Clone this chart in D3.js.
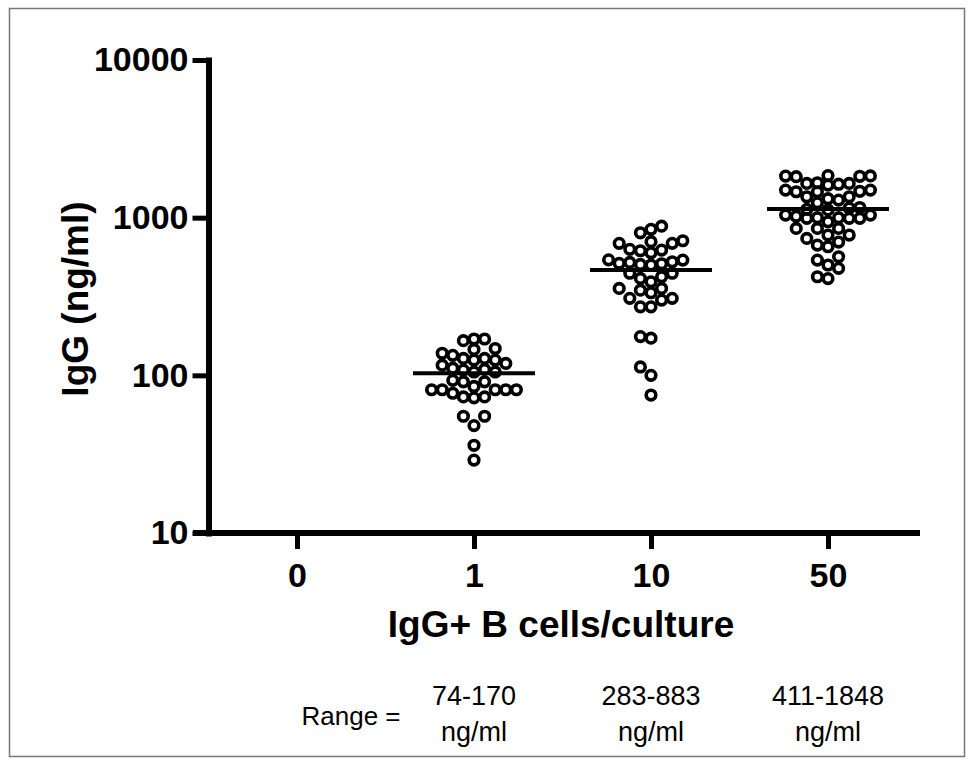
<!DOCTYPE html>
<html>
<head>
<meta charset="utf-8">
<script src="https://cdn.jsdelivr.net/npm/d3@7"></script>
<style>
  html, body { margin: 0; padding: 0; background: #fff; }
  svg { display: block; }
  text { font-family: "Liberation Sans", Arial, Helvetica, sans-serif; fill: #000; }
</style>
</head>
<body>
<svg id="chart" width="973" height="765"></svg>
<script>
// Number of IgG+ B cells seeded per culture
const groups = ["0", "1", "10", "50"];
const yTickValues = [10, 100, 1000, 10000];

// IgG measured in each culture supernatant (ng/ml)
const igg1 = [170, 166, 170, 148, 146, 138, 134, 128, 128, 125, 125, 119, 116, 111,
  109, 105, 105, 108, 91, 85, 93, 91, 81, 81, 73, 81, 72, 81, 73, 81, 77,
  55, 48, 55, 36, 29];
const igg10 = [883, 843, 802, 714, 704, 687, 630, 617, 623, 687, 599, 538, 525, 513,
  540, 501, 510, 520, 505, 444, 422, 392, 412, 444, 356, 347, 356, 334, 308, 300,
  272, 272, 308, 176, 172, 113, 100, 75];
const igg50 = [1848, 1820, 1835, 1830, 1840, 1650, 1630, 1609, 1650, 1665, 1496, 1460,
  1470, 1460, 1496, 1357, 1293, 1243, 1357, 1320, 1150, 1130, 1120, 1160, 1039, 1000,
  990, 1020, 942, 990, 1039, 990, 1000, 855, 855, 855, 739, 776, 776, 670, 654, 700,
  565, 538, 477, 501, 422, 411];
const seriesGroups = ["1", "10", "50"];
const seriesValues = [igg1, igg10, igg50];
const centralValues = [103, 465, 1134];

// Range summary printed under the axis
const rangeGroups = ["1", "10", "50"];
const rangeLow = [74, 283, 411];
const rangeHigh = [170, 883, 1848];

const svg = d3.select("#chart");

// outer frame
svg.append("rect")
  .attr("x", 9.5).attr("y", 8.5).attr("width", 955).attr("height", 748)
  .attr("fill", "none").attr("stroke", "#777").attr("stroke-width", 1.5);

const y = d3.scaleLog().domain([10, 10000]).range([533, 60]);
const x = d3.scalePoint().domain(groups).range([297, 828]);
const axisLeftX = 208.5;
const axisStart = 193, axisEnd = 920;

// y axis
const gy = svg.append("g").attr("transform", `translate(${axisLeftX},0)`);
gy.call(d3.axisLeft(y).tickValues(yTickValues).tickFormat(d3.format("d"))
  .tickSize(16).tickSizeOuter(0).tickPadding(4));
gy.select(".domain").attr("stroke", "#000").attr("stroke-width", 6).attr("stroke-linecap", "square");
gy.selectAll(".tick line").attr("stroke", "#000").attr("stroke-width", 5);
gy.selectAll(".tick text")
  .attr("font-size", 34).attr("font-weight", "bold").attr("fill", "#000")
  .attr("font-family", "Liberation Sans, Arial, sans-serif");

// x axis: ticks from the point scale, baseline drawn across the whole plot
const gx = svg.append("g").attr("transform", `translate(0,${y(10)})`);
gx.call(d3.axisBottom(x).tickSize(16).tickSizeOuter(0));
gx.select(".domain").remove();
gx.selectAll(".tick line").attr("stroke", "#000").attr("stroke-width", 5);
gx.selectAll(".tick text")
  .attr("y", 54).attr("dy", 0)
  .attr("font-size", 34).attr("font-weight", "bold").attr("fill", "#000")
  .attr("font-family", "Liberation Sans, Arial, sans-serif");
svg.append("line")
  .attr("x1", axisStart).attr("x2", axisEnd)
  .attr("y1", y(10)).attr("y2", y(10))
  .attr("stroke", "#000").attr("stroke-width", 6);

// axis titles
svg.append("text")
  .attr("transform", "translate(88,299) rotate(-90)")
  .attr("text-anchor", "middle")
  .attr("font-size", 37).attr("font-weight", "bold")
  .text("IgG (ng/ml)");
svg.append("text")
  .attr("x", 561).attr("y", 637)
  .attr("text-anchor", "middle")
  .attr("font-size", 37).attr("font-weight", "bold")
  .text("IgG+ B cells/culture");

// column scatter: each point sits in the lane nearest the centre that keeps it apart
const laneStep = 10.6, minGap = 10.4;
const laneOrder = [0, -1, 1, -2, 2, -3, 3, -4, 4];
function swarm(values, cx) {
  const placed = [];
  const order = values.map((v, i) => i).sort((a, b) => values[a] - values[b]);
  order.forEach(i => {
    const py = y(values[i]);
    let best = null, bestGap = -1;
    for (const lane of laneOrder) {
      const px = cx + lane * laneStep;
      let gap = Infinity;
      for (const p of placed) gap = Math.min(gap, Math.hypot(p.x - px, p.y - py));
      if (gap >= minGap) { best = px; bestGap = gap; break; }
      if (gap > bestGap) { bestGap = gap; best = px; }
    }
    placed.push({ x: best, y: py, v: values[i] });
  });
  return placed;
}

const marks = svg.append("g");
seriesGroups.forEach((g, k) => {
  const pts = swarm(seriesValues[k], x(g));
  marks.selectAll(null).data(pts).enter().append("circle")
    .attr("cx", d => d.x).attr("cy", d => d.y).attr("r", 4.8)
    .attr("fill", "none").attr("stroke", "#000").attr("stroke-width", 3.6);
});

// central tendency bars
svg.append("g").selectAll("line").data(seriesGroups).enter().append("line")
  .attr("x1", g => x(g) - 61).attr("x2", g => x(g) + 61)
  .attr("y1", (g, i) => y(centralValues[i])).attr("y2", (g, i) => y(centralValues[i]))
  .attr("stroke", "#000").attr("stroke-width", 4);

// range annotation
svg.append("text")
  .attr("x", 351).attr("y", 725).attr("text-anchor", "middle")
  .attr("font-size", 26)
  .text("Range =");
const rg = svg.append("g").selectAll("g").data(rangeGroups).enter().append("g");
rg.append("text")
  .attr("x", g => x(g)).attr("y", 705).attr("text-anchor", "middle")
  .attr("font-size", 27)
  .text((g, i) => `${rangeLow[i]}-${rangeHigh[i]}`);
rg.append("text")
  .attr("x", g => x(g)).attr("y", 741).attr("text-anchor", "middle")
  .attr("font-size", 27)
  .text("ng/ml");
</script>
</body>
</html>
